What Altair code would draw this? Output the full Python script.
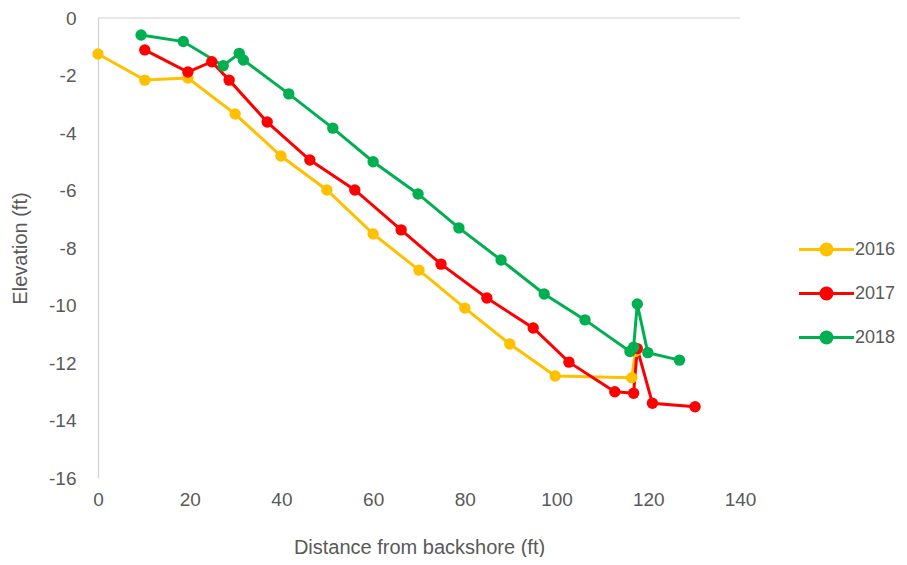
import altair as alt
import pandas as pd

years = ["2016", "2017", "2018"]
colors = ["#FFC000", "#FF0000", "#00B050"]

x16 = [0, 10.2, 19.6, 29.9, 39.9, 49.9, 60, 70, 80, 89.8, 99.7, 116.4, 117.2]
y16 = [-1.25, -2.16, -2.09, -3.34, -4.8, -5.98, -7.51, -8.77, -10.09, -11.34, -12.45, -12.51, -11.6]

x17 = [10.2, 19.6, 24.8, 28.6, 36.9, 46.2, 56, 66.1, 74.8, 84.8, 94.9, 102.7, 112.7, 116.8, 117.6, 120.9, 130.2]
y17 = [-1.11, -1.88, -1.52, -2.16, -3.62, -4.94, -5.98, -7.37, -8.56, -9.74, -10.78, -11.97, -13.0, -13.05, -11.5, -13.4, -13.52]

x18 = [9.4, 18.6, 27.3, 30.8, 31.7, 41.6, 51.2, 60, 69.8, 78.7, 87.9, 97.3, 106.2, 116, 116.8, 117.6, 119.9, 126.8]
y18 = [-0.59, -0.82, -1.66, -1.23, -1.46, -2.64, -3.83, -5.0, -6.12, -7.3, -8.42, -9.6, -10.5, -11.6, -11.45, -9.95, -11.64, -11.9]

x_ticks = [0, 20, 40, 60, 80, 100, 120, 140]
y_ticks = [0, -2, -4, -6, -8, -10, -12, -14, -16]

rows = []
for yr, xs, ys in zip(years, [x16, x17, x18], [y16, y17, y18]):
    for i, (a, b) in enumerate(zip(xs, ys)):
        rows.append({"year": yr, "dist": a, "elev": b, "idx": i})
df = pd.DataFrame(rows)

FONT = "Liberation Sans"
GRAY = "#595959"

xs = alt.X("dist:Q", scale=alt.Scale(domain=[0, 140]),
           axis=alt.Axis(values=x_ticks, title="Distance from backshore (ft)",
                         domain=False, ticks=False, grid=False, labelFlush=False,
                         labelExpr="toString(datum.value)",
                         labelPadding=12, titlePadding=28))
ys = alt.Y("elev:Q", scale=alt.Scale(domain=[-16, 0]),
           axis=alt.Axis(values=y_ticks, title="Elevation (ft)",
                         domain=True, domainColor="#D0D0D0", domainWidth=1.2,
                         labelExpr="toString(datum.value)",
                         ticks=False, grid=False, labelPadding=22, titlePadding=18))

legend_path = "M-2,0L2,0M-0.4,0A0.4,0.4,0,1,1,0.4,0A0.4,0.4,0,1,1,-0.4,0Z"

color = alt.Color("year:N", scale=alt.Scale(domain=years, range=colors),
                  legend=alt.Legend(title=None, orient="none", legendX=713, legendY=216,
                                    symbolType=legend_path, symbolSize=756,
                                    symbolStrokeWidth=3, symbolFillColor=None,
                                    labelOffset=13, rowPadding=17, padding=0))

base = alt.Chart(df)
lines = base.mark_line(strokeWidth=3).encode(x=xs, y=ys, color=color, order="idx:Q")
points = base.mark_point(filled=True, size=130, opacity=1).encode(x=xs, y=ys, color=color)

zero = alt.Chart(pd.DataFrame({"z": [0]})).mark_rule(color="#D0D0D0", strokeWidth=1.2).encode(y="z:Q")

chart = alt.layer(zero, lines, points).properties(
    width=642, height=460,
    autosize=alt.AutoSizeParams(type="none"),
    padding={"left": 90, "top": 10, "right": 159, "bottom": 79},
).configure_view(stroke=None).configure_axis(
    labelFont=FONT, titleFont=FONT, labelColor=GRAY, titleColor=GRAY,
    labelFontSize=19, titleFontSize=20, titleFontWeight="normal",
).configure_legend(labelFont=FONT, labelFontSize=18, labelColor=GRAY)

chart.save("out.html", embed_options={"renderer": "svg", "actions": False})
